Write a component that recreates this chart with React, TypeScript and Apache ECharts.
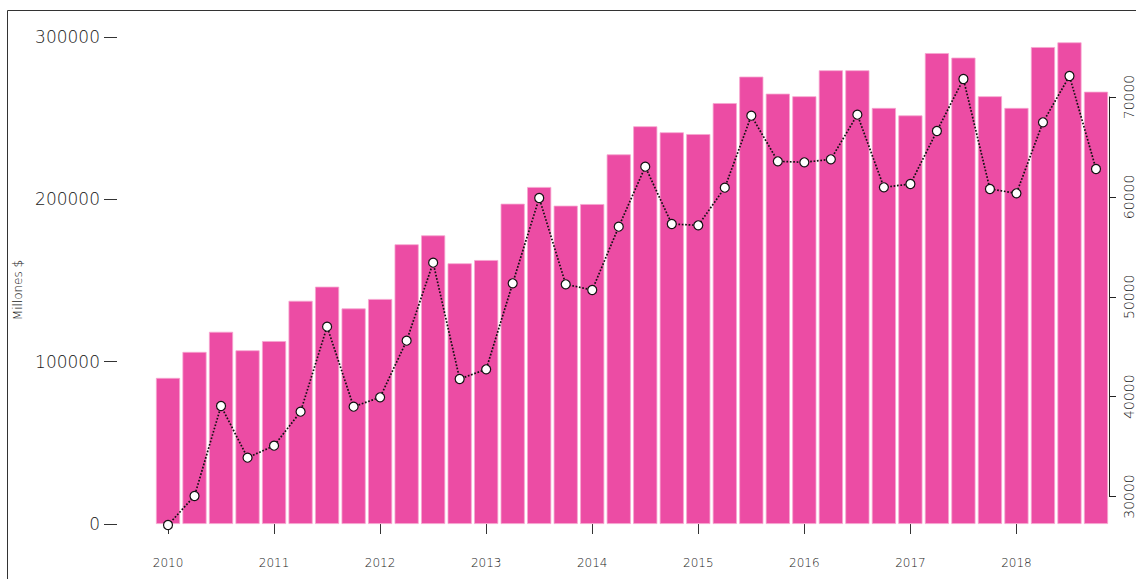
import React, { useEffect, useRef } from "react";
import * as echarts from "echarts";

const years = ["2010", "2011", "2012", "2013", "2014", "2015", "2016", "2017", "2018"];
const quarters = ["Q1", "Q2", "Q3", "Q4"];
const categories: string[] = years.flatMap((y) => quarters.map((q) => `${y} ${q}`));

const barValues = [
  90000, 106000, 118400, 107000,
  112700, 137500, 146200, 132800,
  138600, 172300, 177800, 160600,
  162600, 197300, 207600, 196100,
  197100, 227700, 245000, 241300,
  240200, 259300, 275600, 265100,
  263500, 279500, 279500, 256300,
  251700, 290100, 287300, 263500,
  256300, 293800, 296700, 266300,
];

const lineValues = [
  27100, 30000, 39000, 33830,
  35030, 38430, 46930, 38930,
  39870, 45530, 53330, 41700,
  42670, 51270, 59800, 51170,
  50600, 56930, 62930, 57200,
  57070, 60830, 68030, 63470,
  63370, 63670, 68130, 60870,
  61200, 66500, 71700, 60700,
  60270, 67370, 72000, 62700,
];

const leftTicks = { min: 0, max: 300000, interval: 100000 };
const rightTicks = { min: 30000, max: 70000, interval: 10000 };
const lineAxisRange = { min: 27200, max: 75900 };

const FONT = "'DejaVu Sans', sans-serif";
const TEXT = "#1a1a1a";

export default function App() {
  const ref = useRef<HTMLDivElement>(null);

  useEffect(() => {
    if (!ref.current) return;
    const chart = echarts.init(ref.current, undefined, { renderer: "svg" });
    chart.setOption({
      animation: false,
      backgroundColor: "#ffffff",
      graphic: [
        {
          type: "rect",
          shape: { x: 7.5, y: 10.5, width: 1300, height: 800 },
          style: { fill: "none", stroke: "#333333", lineWidth: 1 },
          silent: true,
        },
        {
          type: "text",
          x: 18,
          y: 290,
          rotation: Math.PI / 2,
          style: {
            text: "Millones $",
            fontFamily: FONT,
            fontSize: 12,
            fontWeight: 200,
            fill: TEXT,
            align: "center",
            verticalAlign: "middle",
          },
        },
      ],
      grid: [
        { left: 154.75, right: 26.75, top: 37, bottom: 55 },
        { left: 154.75, right: 22, top: 97, bottom: 82.5 },
      ],
      xAxis: [
        {
          type: "category",
          gridIndex: 0,
          data: categories,
          boundaryGap: true,
          offset: 19,
          axisLine: { show: false },
          axisTick: {
            show: true,
            alignWithLabel: true,
            interval: 3,
            length: 10,
            lineStyle: { color: "#333333", width: 1 },
          },
          axisLabel: {
            interval: 3,
            margin: 14,
            fontFamily: FONT,
            fontSize: 12,
            fontWeight: 200,
            color: TEXT,
            formatter: (v: string) => v.slice(0, 4),
          },
          splitLine: { show: false },
        },
        {
          type: "category",
          gridIndex: 1,
          data: categories,
          show: false,
        },
      ],
      yAxis: [
        {
          type: "value",
          gridIndex: 0,
          position: "left",
          min: leftTicks.min,
          max: leftTicks.max,
          interval: leftTicks.interval,
          offset: 37.75,
          axisLine: { show: false },
          axisTick: { show: true, length: 13, lineStyle: { color: "#333333", width: 1 } },
          axisLabel: {
            margin: 17,
            fontFamily: FONT,
            fontSize: 17,
            fontWeight: 200,
            color: TEXT,
            formatter: (v: number) => String(v),
          },
          splitLine: { show: false },
        },
        {
          type: "value",
          gridIndex: 0,
          position: "right",
          min: lineAxisRange.min,
          max: lineAxisRange.max,
          show: false,
          splitLine: { show: false },
        },
        {
          type: "value",
          gridIndex: 1,
          position: "right",
          min: rightTicks.min,
          max: rightTicks.max,
          interval: rightTicks.interval,
          axisLine: { show: true, lineStyle: { color: "#222222", width: 1 } },
          axisTick: { show: true, length: 7, lineStyle: { color: "#222222", width: 1 } },
          axisLabel: {
            rotate: 90,
            margin: 13,
            fontFamily: FONT,
            fontSize: 14,
            fontWeight: 200,
            color: TEXT,
            formatter: (v: number) => String(v),
          },
          splitLine: { show: false },
        },
      ],
      series: [
        {
          type: "bar",
          xAxisIndex: 0,
          yAxisIndex: 0,
          data: barValues,
          barCategoryGap: "9%",
          itemStyle: { color: "#EC4CA4", borderColor: "#F6A6CF", borderWidth: 0.8 },
        },
        {
          type: "line",
          xAxisIndex: 0,
          yAxisIndex: 1,
          data: lineValues,
          clip: false,
          symbol: "circle",
          symbolSize: 9,
          lineStyle: { color: "#111111", width: 1.7, type: "dotted" },
          itemStyle: { color: "#ffffff", borderColor: "#111111", borderWidth: 1.2 },
          z: 5,
        },
      ],
    });
    return () => chart.dispose();
  }, []);

  return (
    <div
      ref={ref}
      style={{ position: "absolute", left: 0, top: 0, width: 1136, height: 579 }}
    />
  );
}
